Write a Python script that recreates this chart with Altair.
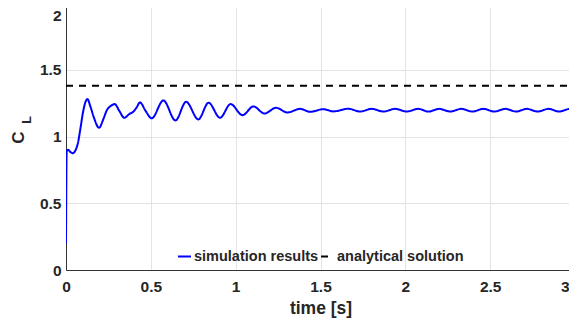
import altair as alt
import pandas as pd

# simulation results (time [s], C_L)
sim_t = [0.0, 0.004, 0.012, 0.025, 0.04, 0.055, 0.07, 0.085, 0.1, 0.115, 0.126,
         0.145, 0.165, 0.195, 0.22, 0.24, 0.265, 0.287, 0.315, 0.343, 0.375,
         0.397, 0.415, 0.436, 0.47, 0.505, 0.574, 0.645, 0.708, 0.78, 0.84,
         0.908, 0.97, 1.04, 1.105, 1.17, 1.238, 1.305, 1.38, 1.44, 1.517,
         1.576, 1.664, 1.733, 1.802, 1.871, 1.94, 2.008, 2.077, 2.136, 2.2,
         2.265, 2.33, 2.395, 2.46, 2.525, 2.59, 2.653, 2.716, 2.78, 2.844,
         2.907, 2.97, 3.0]
sim_cl = [0.20, 0.89, 0.90, 0.885, 0.875, 0.895, 0.95, 1.06, 1.18, 1.26, 1.28,
          1.22, 1.14, 1.065, 1.13, 1.195, 1.23, 1.243, 1.19, 1.14, 1.17,
          1.186, 1.215, 1.255, 1.19, 1.136, 1.27, 1.12, 1.26, 1.128, 1.253,
          1.14, 1.243, 1.16, 1.225, 1.172, 1.215, 1.18, 1.207, 1.185, 1.205,
          1.188, 1.208, 1.187, 1.207, 1.187, 1.207, 1.187, 1.207, 1.187, 1.207,
          1.187, 1.207, 1.187, 1.207, 1.187, 1.207, 1.187, 1.207, 1.187, 1.207,
          1.187, 1.207, 1.20]

# analytical solution
ana_t = [0.0, 3.0]
ana_cl = [1.38, 1.38]

series_names = ["simulation results", "analytical solution"]
x_ticks = [0, 0.5, 1, 1.5, 2, 2.5, 3]
y_ticks = [0, 0.5, 1, 1.5, 2]

df = pd.concat([
    pd.DataFrame({"t": sim_t, "cl": sim_cl, "series": series_names[0]}),
    pd.DataFrame({"t": ana_t, "cl": ana_cl, "series": series_names[1]}),
])

FONT = "Liberation Sans"
TXT = "#262626"

leg = alt.Legend(
    title=None, orient="none", legendX=111, legendY=246, direction="horizontal",
    symbolType="stroke", symbolSize=169, symbolStrokeWidth=2,
    labelFont=FONT, labelFontWeight="bold", labelFontSize=14.5, labelColor=TXT,
    labelOffset=2, columnPadding=-2, padding=0,
)

x_axis = alt.Axis(
    values=x_ticks, format="~g", title="time [s]",
    labelAlign={"condition": {"test": "datum.value == 3", "value": "right"}, "value": "center"},
    labelOffset={"condition": {"test": "datum.value == 3", "value": -6}, "value": 0},
)
y_axis = alt.Axis(
    values=y_ticks, format="~g", title=None,
    labelBaseline={"condition": {"test": "datum.value == 2", "value": "top"}, "value": "middle"},
    labelOffset={"condition": {"test": "datum.value == 2", "value": 5}, "value": 0},
)

lines = alt.Chart(df).mark_line(strokeWidth=2, interpolate="monotone", clip=True).encode(
    x=alt.X("t:Q", scale=alt.Scale(domain=[0, 3], nice=False), axis=x_axis),
    y=alt.Y("cl:Q", scale=alt.Scale(domain=[0, 2], nice=False), axis=y_axis),
    color=alt.Color("series:N", scale=alt.Scale(domain=series_names, range=["#0000ff", "#000000"]),
                    legend=leg),
    strokeDash=alt.StrokeDash("series:N", scale=alt.Scale(domain=series_names, range=[[1, 0], [7, 6]]),
                              legend=leg),
    detail="series:N",
)

title_c = alt.Chart(pd.DataFrame({"s": ["C"]})).mark_text(
    angle=270, font=FONT, fontWeight="bold", fontSize=17, color=TXT,
    align="center", baseline="middle"
).encode(text="s:N", x=alt.value(-47.5), y=alt.value(134.5))

title_l = alt.Chart(pd.DataFrame({"s": ["L"]})).mark_text(
    angle=270, font=FONT, fontWeight="bold", fontSize=12.5, color=TXT,
    align="center", baseline="middle"
).encode(text="s:N", x=alt.value(-39.5), y=alt.value(117))

chart = alt.layer(lines, title_c, title_l).properties(
    width=509, height=267,
    autosize=alt.AutoSizeParams(type="none"),
    padding={"left": 58, "top": -5, "right": -6, "bottom": 50},
).configure_view(
    stroke="#d0d0d0", strokeWidth=1
).configure_axis(
    labelFont=FONT, labelFontWeight="bold", labelFontSize=15.5, labelColor=TXT,
    titleFont=FONT, titleFontWeight="bold", titleFontSize=17.5, titleColor=TXT,
    gridColor="#e3e3e3", gridWidth=1, domainColor="#333333", domainWidth=1,
    ticks=False, labelFlush=False, labelOverlap=False, labelBound=False,
).configure_axisX(
    labelPadding=9, titlePadding=5
).configure_axisY(
    labelPadding=5
)

chart.save("out.html", embed_options={"renderer": "svg", "actions": False})
